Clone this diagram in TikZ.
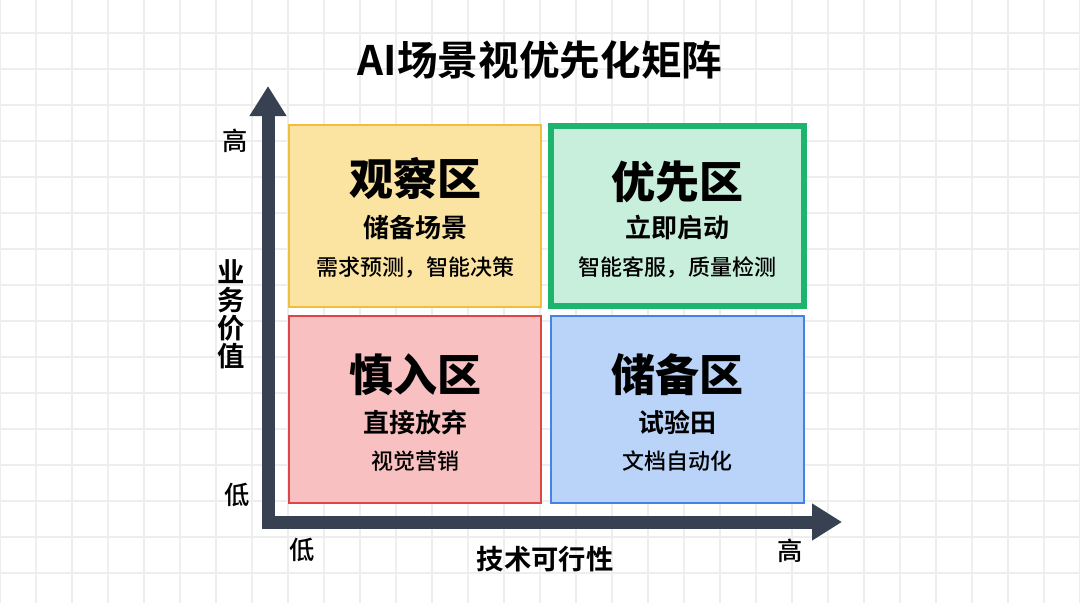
\documentclass[tikz,border=0pt]{standalone}
\usepackage{fontspec}
\setmainfont{Noto Sans CJK SC}[BoldFont={Noto Sans CJK SC Bold}]
\newfontfamily\heavyfont{Noto Sans CJK SC Black}
\newfontfamily\midfont{Noto Sans CJK SC Medium}
\usetikzlibrary{arrows.meta, positioning}

\definecolor{axisgray}{HTML}{374151}
\definecolor{gridgray}{HTML}{EEEEEE}
\definecolor{watchfill}{HTML}{FBE4A2}
\definecolor{watchline}{HTML}{F0BE3C}
\definecolor{priofill}{HTML}{C8EEDC}
\definecolor{prioline}{HTML}{1DB46E}
\definecolor{riskfill}{HTML}{F8C0C0}
\definecolor{riskline}{HTML}{DC4646}
\definecolor{sparefill}{HTML}{B9D4F8}
\definecolor{spareline}{HTML}{4682E6}

\begin{document}
\begin{tikzpicture}[
      x=0.75pt, y=-0.75pt,
      gridline/.style={draw=gridgray, line width=1.1pt},
      zone/.style={rectangle, line width=1.8pt, minimum width=189pt,
                   minimum height=136.5pt, inner sep=0pt},
      head/.style={font=\heavyfont\fontsize{33}{36}\selectfont, inner sep=0pt},
      sub/.style={font=\bfseries\fontsize{19.5}{22}\selectfont, inner sep=0pt},
      note/.style={font=\midfont\fontsize{16.5}{19}\selectfont, inner sep=0pt},
      tick/.style={font=\midfont\fontsize{19}{21}\selectfont, inner sep=0pt},
      axlabel/.style={font=\bfseries\fontsize{20.5}{21}\selectfont, inner sep=0pt, align=center},
      axis/.style={draw=axisgray, line width=9.75pt, line join=miter,
                   {Triangle[length=22.5pt, width=26.25pt]}-{Triangle[length=22.5pt, width=26.25pt]}}
    ]
    \fill[white] (0,0) rectangle (1080,603);
    \useasboundingbox (0,0) rectangle (1080,603);
    % background grid
    \foreach \gx in {0,36,...,1080} \draw[gridline] (\gx,0) -- (\gx,603);
    \foreach \gy in {33,69,...,603} \draw[gridline] (0,\gy) -- (1080,\gy);

    \node[font=\bfseries\fontsize{30.5}{34}\selectfont] (title) at (540,60) {AI场景视优先化矩阵};

    % quadrants
    \node[zone, fill=watchfill, draw=watchline] (watch) at (415,216) {};
    \node[zone, fill=priofill, draw=prioline, line width=4.5pt,
          minimum width=189.75pt, minimum height=135pt] (prio) at (677.5,216) {};
    \node[zone, fill=riskfill, draw=riskline, minimum height=140.25pt] (risk) at (415,409.5) {};
    \node[zone, fill=sparefill, draw=spareline, minimum width=189.75pt,
          minimum height=140.25pt] (spare) at (677.5,409.5) {};

    \node[head] (watchH) at (415,179) {观察区};
    \node[sub]  (watchS) at (415,228) {储备场景};
    \node[note] (watchN) at (415,267) {需求预测，智能决策};

    \node[head] (prioH) at (677,182) {优先区};
    \node[sub]  (prioS) at (677,228) {立即启动};
    \node[note] (prioN) at (677,267) {智能客服，质量检测};

    \node[head] (riskH) at (415,375) {慎入区};
    \node[sub]  (riskS) at (415,422) {直接放弃};
    \node[note] (riskN) at (415,461) {视觉营销};

    \node[head] (spareH) at (677,375) {储备区};
    \node[sub]  (spareS) at (677,422) {试验田};
    \node[note] (spareN) at (677,461) {文档自动化};

    % axes
    \coordinate (ytop) at (268,86);
    \coordinate (xend) at (842,522);
    \draw[axis] (ytop) |- (xend);

    \node[tick] (yhigh) at (235,141) {高};
    \node[tick] (ylow)  at (237,495) {低};
    \node[axlabel] (ylab) at (231,314) {业\\务\\价\\值};
    \node[tick] (xlow)  at (302,550) {低};
    \node[tick] (xhigh) at (790,551) {高};
    \node[axlabel] (xlab) at (545,559) {技术可行性};
  \end{tikzpicture}
\end{document}
